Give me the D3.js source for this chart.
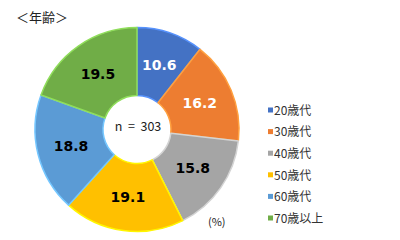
<!DOCTYPE html>
<html>
<head>
<meta charset="utf-8">
<script src="https://cdn.jsdelivr.net/npm/d3@7"></script>
<style>
  body { margin: 0; background: #fff; }
  text { font-family: "Noto Sans CJK JP", sans-serif; }
</style>
</head>
<body>
<svg width="400" height="240"></svg>
<script>
const categories = ['20歳代', '30歳代', '40歳代', '50歳代', '60歳代', '70歳以上']
const values = [10.6, 16.2, 15.8, 19.1, 18.8, 19.5]
const colors = ['#4472C4', '#ED7D31', '#A5A5A5', '#FFC000', '#5B9BD5', '#70AD47']
const labelColors = ['#fff', '#fff', '#000', '#000', '#000', '#000']
const title = '＜年齢＞'
const centerText = 'n  =  303'
const unitText = '(%)'

const svg = d3.select('svg')

const cx = 137
const cy = 129.5
const outerR = 102
const innerR = 34

svg.append('text')
  .attr('x', 16)
  .attr('y', 22)
  .attr('font-size', 13)
  .attr('fill', '#222')
  .text(title)

const pie = d3.pie().sort(null).value(d => d)
const arcs = pie(values)

const arcGen = d3.arc().innerRadius(innerR).outerRadius(outerR)
const labelArc = d3.arc().innerRadius(68).outerRadius(68)

const g = svg.append('g')
  .attr('transform', `translate(${cx}, ${cy})`)

// soft bevel: lighter edge on each slice
g.selectAll('path.slice')
  .data(arcs)
  .enter().append('path')
  .attr('class', 'slice')
  .attr('d', arcGen)
  .attr('fill', (d, i) => colors[i])
  .attr('stroke', (d, i) => d3.color(colors[i]).brighter(0.7))
  .attr('stroke-width', 1.5)
  .attr('stroke-linejoin', 'round')

g.selectAll('text.lbl')
  .data(arcs)
  .enter().append('text')
  .attr('class', 'lbl')
  .attr('transform', d => `translate(${labelArc.centroid(d)})`)
  .attr('text-anchor', 'middle')
  .attr('dy', '0.36em')
  .style('font-family', '"DejaVu Sans", sans-serif')
  .attr('font-weight', 'bold')
  .attr('font-size', 14)
  .attr('fill', (d, i) => labelColors[i])
  .text(d => d.data.toFixed(1))

g.append('text')
  .attr('text-anchor', 'middle')
  .attr('x', 1)
  .attr('y', -3)
  .attr('dy', '0.36em')
  .attr('font-size', 12.5)
  .attr('fill', '#222')
  .style('white-space', 'pre')
  .text(centerText)

svg.append('text')
  .attr('x', 208)
  .attr('y', 226)
  .attr('font-size', 11)
  .attr('fill', '#222')
  .text(unitText)

const legendY = d3.scalePoint()
  .domain(categories)
  .range([110.5, 218.5])

const legend = svg.append('g')
  .selectAll('g')
  .data(categories)
  .enter().append('g')
  .attr('transform', d => `translate(268, ${legendY(d)})`)

legend.append('rect')
  .attr('x', 0)
  .attr('y', -3)
  .attr('width', 5)
  .attr('height', 5)
  .attr('fill', (d, i) => colors[i])

legend.append('text')
  .attr('x', 6)
  .attr('dy', '0.36em')
  .attr('font-size', 12)
  .attr('fill', '#333')
  .text(d => d)
</script>
</body>
</html>
